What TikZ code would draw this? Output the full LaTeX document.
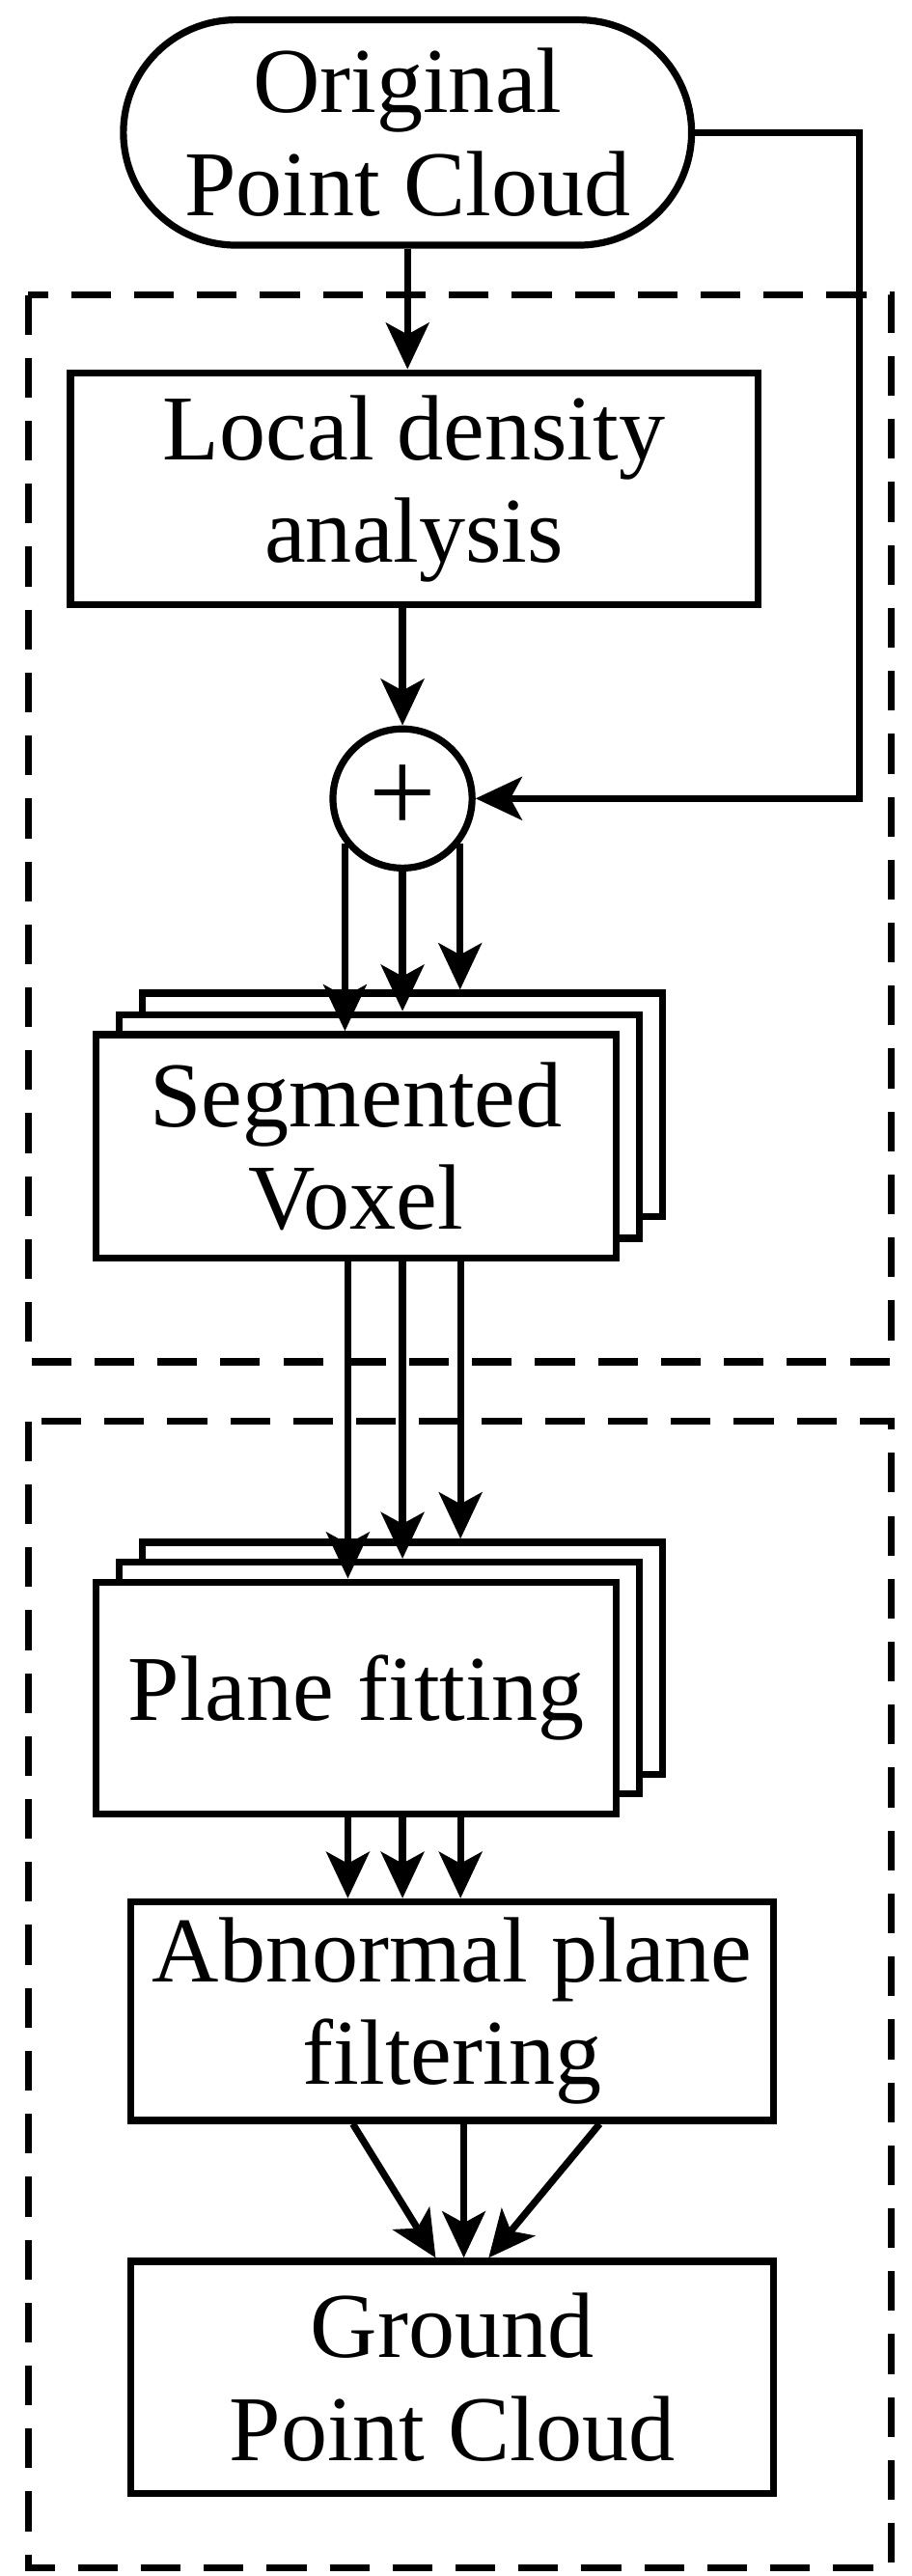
\documentclass[tikz,border=0pt]{standalone}
\usepackage{fontspec}
\setmainfont{Liberation Serif}
\usetikzlibrary{arrows.meta,calc}
\begin{document}
\begin{tikzpicture}[x=1pt,y=-1pt,
  every node/.style={font=\fontsize{56}{62}\selectfont},
  ln/.style={line width=4.2pt},
  box/.style={draw,line width=4.2pt,fill=white,inner sep=0pt,align=center},
  arr/.style={ln,-{Stealth[length=28pt,width=26pt,inset=7pt]}},
  dbox/.style={line width=4.2pt,dash pattern=on 24pt off 14pt}]
\useasboundingbox (0,0) rectangle (550,1555);
\draw[dbox] (17,178) rectangle (538,822);
\draw[dbox] (17,858) rectangle (538,1550);
\node[box,minimum width=343pt,minimum height=136pt,rounded corners=68pt] (orig) at (246,80) {Original\\Point Cloud};
\node[box,minimum width=415pt,minimum height=140pt] (lda) at (250,295) {Local density\\analysis};
\node[draw,circle,line width=4.2pt,minimum size=84pt,inner sep=0pt,font=\fontsize{72}{72}\selectfont] (plus) at (243,482) {+};
\node[box,minimum width=314pt,minimum height=135pt] (v3) at (243,667) {};
\node[box,minimum width=314pt,minimum height=135pt] (v2) at (229,680) {};
\node[box,minimum width=314pt,minimum height=135pt] (v1) at (215,692) {Segmented\\Voxel};
\node[box,minimum width=314pt,minimum height=140pt] (p3) at (243,1001) {};
\node[box,minimum width=314pt,minimum height=140pt] (p2) at (229,1013) {};
\node[box,minimum width=314pt,minimum height=140pt] (p1) at (215,1025) {Plane fitting};
\node[box,minimum width=388pt,minimum height=132pt] (ab) at (273,1214) {Abnormal plane\\filtering};
\node[box,minimum width=388pt,minimum height=140pt] (gr) at (273,1435) {Ground\\Point Cloud};
\coordinate (xa) at (210,0);
\coordinate (xb) at (243,0);
\coordinate (xc) at (278,0);
\draw[arr] (orig.south) -- (orig.south |- lda.north);
\draw[arr] (lda.south -| plus) -- (plus.north);
\draw[arr] (orig.east) -- (519,80) |- (plus.east);
\draw[arr] (plus.-142) -- (plus.-142 |- v1.north);
\draw[arr] (plus.south) -- (v2.north -| plus);
\draw[arr] (plus.-38) -- (plus.-38 |- v3.north);
\draw[arr] (xa |- v1.south) -- (xa |- p1.north);
\draw[arr] (xb |- v1.south) -- (xb |- p2.north);
\draw[arr] (xc |- v1.south) -- (xc |- p3.north);
\draw[arr] (xa |- p1.south) -- (xa |- ab.north);
\draw[arr] (xb |- p1.south) -- (xb |- ab.north);
\draw[arr] (xc |- p1.south) -- (xc |- ab.north);
\coordinate (g1) at ($(gr.north)+(-10,0)$);
\coordinate (g3) at ($(gr.north)+(22,0)$);
\draw[arr] ($(ab.south)+(-60,0)$) -- (g1);
\draw[arr] ($(ab.south)+(7,0)$) -- ($(gr.north)+(7,0)$);
\draw[arr] ($(ab.south)+(89,0)$) -- (g3);
\end{tikzpicture}
\end{document}
